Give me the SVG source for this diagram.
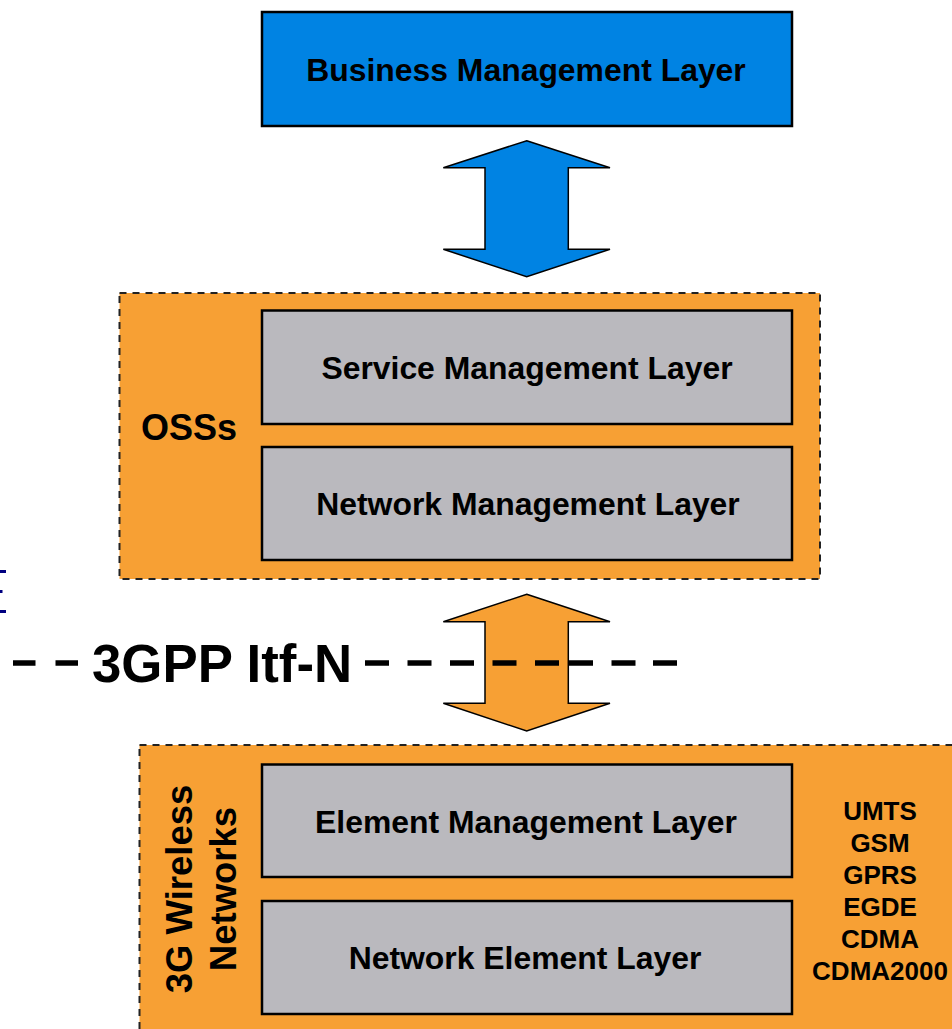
<svg xmlns="http://www.w3.org/2000/svg" width="952" height="1029" viewBox="0 0 952 1029">
<style>
.lbl{font-family:"Liberation Sans",Arial,sans-serif;font-weight:bold;fill:#000;}
.box{fill:#BAB9BE;stroke:#000;stroke-width:2.5;}
.cont{fill:#F7A034;stroke:#222;stroke-width:2;stroke-dasharray:7 6;}
.arr{stroke:#000;stroke-width:1.5;stroke-linejoin:miter;}
</style>
<rect width="952" height="1029" fill="#fff"/>
<g id="marks" fill="#000080">
<rect x="0" y="570" width="6" height="3"/>
<rect x="0" y="590" width="2.5" height="3"/>
<rect x="0" y="610" width="6" height="3"/>
</g>
<g id="business">
<rect x="262" y="12" width="530" height="114" fill="#0083E3" stroke="#000" stroke-width="2.5"/>
<text class="lbl" x="526" y="80.5" font-size="31.9" text-anchor="middle">Business Management Layer</text>
</g>
<g id="osss">
<rect class="cont" x="119.5" y="293" width="700.5" height="286"/>
<text class="lbl" x="141" y="440" font-size="36">OSSs</text>
</g>
<g id="service">
<rect class="box" x="262" y="310.5" width="530" height="113.5"/>
<text class="lbl" x="527" y="378.5" font-size="31.9" text-anchor="middle">Service Management Layer</text>
</g>
<g id="netmgmt">
<rect class="box" x="262" y="447" width="530" height="113"/>
<text class="lbl" x="528" y="515" font-size="31.9" text-anchor="middle">Network Management Layer</text>
</g>
<g id="wireless">
<rect class="cont" x="139.5" y="745" width="830" height="300"/>
<text class="lbl" font-size="36.5" text-anchor="middle" transform="translate(191.5,889) rotate(-90)">3G Wireless</text>
<text class="lbl" font-size="36.5" text-anchor="middle" transform="translate(236,889) rotate(-90)">Networks</text>
<g class="lbl" font-size="26" text-anchor="middle">
<text x="880" y="819.5">UMTS</text>
<text x="880" y="851.7">GSM</text>
<text x="880" y="884">GPRS</text>
<text x="880" y="916">EGDE</text>
<text x="880" y="948">CDMA</text>
<text x="880" y="980">CDMA2000</text>
</g>
</g>
<g id="element">
<rect class="box" x="262" y="764.5" width="530" height="112.5"/>
<text class="lbl" x="526" y="832.5" font-size="31.9" text-anchor="middle">Element Management Layer</text>
</g>
<g id="netelem">
<rect class="box" x="262" y="901" width="530" height="113"/>
<text class="lbl" x="525" y="969" font-size="31.9" text-anchor="middle">Network Element Layer</text>
</g>
<g id="connectors">
<polygon class="arr" fill="#0083E3" points="526.7,140.7 610,167.7 568.3,167.7 568.3,249.3 610,249.3 526.7,276.7 443.3,249.3 485,249.3 485,167.7 443.3,167.7"/>
<polygon class="arr" fill="#F7A034" points="526.7,594.3 610,621.7 568.3,621.7 568.3,703.3 610,703.3 526.7,731 443.3,703.3 485,703.3 485,621.7 443.3,621.7"/>
<path d="M13 663h22.5M55.5 663h22.5M365 663h24M407.5 663h24M450 663h24M492.5 663h24M535 663h24M569 663h24M611.5 663h24M653 663h24" stroke="#000" stroke-width="5.5" fill="none"/>
</g>
<g id="itfn">
<text class="lbl" x="92" y="681.5" font-size="52.8">3GPP Itf-N</text>
</g>
</svg>
